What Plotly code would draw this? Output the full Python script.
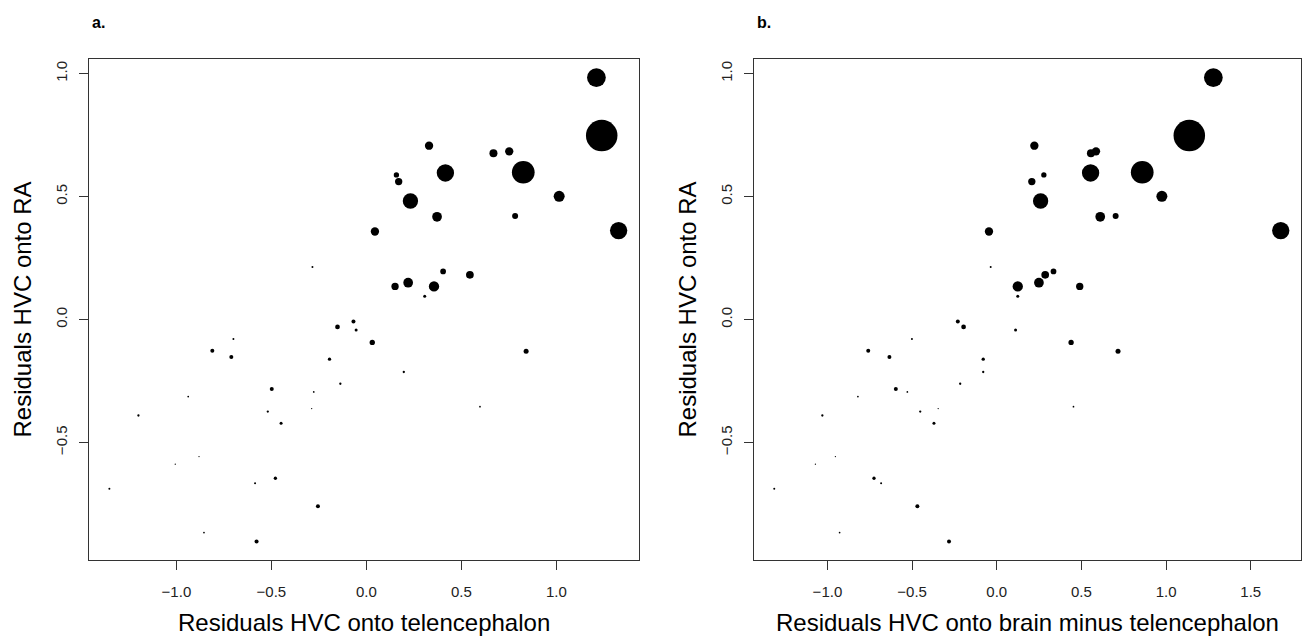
import plotly.graph_objects as go

# Residuals of HVC volume regressed onto RA (shared y values for both panels)
resid_ra = [
    0.984, 0.748, 0.707, 0.676, 0.684, 0.596, 0.599, 0.588, 0.561, 0.482,
    0.501, 0.418, 0.421, 0.362, 0.358, 0.214, 0.196, 0.182, 0.150, 0.135,
    0.135, 0.095,
    -0.008, -0.030, -0.042, -0.079, -0.093, -0.127, -0.129, -0.152, -0.161, -0.213,
    -0.261, -0.282, -0.294, -0.313, -0.354, -0.362, -0.374, -0.390, -0.421, -0.557,
    -0.588, -0.645, -0.665, -0.688, -0.759, -0.866, -0.902,
]

# Residuals of HVC regressed onto telencephalon (panel a)
resid_telencephalon = [
    1.211, 1.239, 0.330, 0.669, 0.752, 0.416, 0.826, 0.158, 0.170, 0.232,
    1.015, 0.372, 0.783, 1.328, 0.045, -0.284, 0.404, 0.545, 0.220, 0.151,
    0.356, 0.307,
    -0.068, -0.152, -0.054, -0.700, 0.031, -0.811, 0.841, -0.711, -0.194, 0.197,
    -0.137, -0.498, -0.277, -0.938, 0.598, -0.288, -0.519, -1.200, -0.449, -0.881,
    -1.006, -0.479, -0.586, -1.353, -0.255, -0.855, -0.578,
]

# Residuals of HVC regressed onto brain minus telencephalon (panel b)
resid_brain_minus_tel = [
    1.279, 1.137, 0.222, 0.556, 0.586, 0.554, 0.859, 0.278, 0.207, 0.259,
    0.975, 0.611, 0.702, 1.677, -0.046, -0.036, 0.335, 0.286, 0.249, 0.490,
    0.124, 0.124,
    -0.230, -0.196, 0.111, -0.501, 0.439, -0.759, 0.716, -0.634, -0.080, -0.080,
    -0.216, -0.596, -0.528, -0.820, 0.453, -0.346, -0.452, -1.030, -0.371, -0.953,
    -1.071, -0.725, -0.683, -1.314, -0.469, -0.928, -0.282,
]

# Relative weight of each species (drives the symbol size)
weight = [
    4.68, 7.88, 2.08, 2.00, 2.08, 4.33, 5.68, 1.33, 1.83, 3.83,
    2.75, 2.43, 1.50, 4.33, 2.08, 0.50, 1.43, 1.93, 2.43, 1.83,
    2.58, 0.75,
    1.00, 1.18, 0.75, 0.50, 1.33, 1.00, 1.25, 1.00, 0.83, 0.58,
    0.58, 1.00, 0.43, 0.43, 0.43, 0.33, 0.58, 0.58, 0.75, 0.33,
    0.33, 0.83, 0.50, 0.50, 1.00, 0.43, 1.00,
]

W, H = 1305, 636
SIZE_PER_WEIGHT = 4.0
sizes = [w * SIZE_PER_WEIGHT for w in weight]


def r_range(vals):
    lo, hi = min(vals), max(vals)
    pad = 0.04 * (hi - lo)
    return [lo - pad, hi + pad]


def px_x(p):
    return p / W


def px_y(p):
    return 1 - p / H


FONT = "Liberation Sans, Arial, Helvetica, sans-serif"
INK = "#222222"

fig = go.Figure()
marker = dict(color="black", size=sizes, line=dict(width=0), opacity=1)
fig.add_trace(go.Scatter(x=resid_telencephalon, y=resid_ra, mode="markers",
                         marker=marker, xaxis="x", yaxis="y", hoverinfo="skip"))
fig.add_trace(go.Scatter(x=resid_brain_minus_tel, y=resid_ra, mode="markers",
                         marker=marker, xaxis="x2", yaxis="y2", hoverinfo="skip"))

axis_style = dict(
    showline=True, mirror=True, linecolor="#333333", linewidth=1,
    ticks="outside", ticklen=9, tickwidth=1, tickcolor="#333333",
    showgrid=False, zeroline=False, dtick=0.5, tick0=0, tickformat=".1f",
    tickfont=dict(family=FONT, size=15, color=INK),
)

y_dom = [px_y(560), px_y(59)]
fig.update_layout(
    width=W, height=H,
    margin=dict(l=0, r=0, t=0, b=0),
    paper_bgcolor="white", plot_bgcolor="white",
    showlegend=False,
    xaxis=dict(domain=[px_x(89), px_x(639)], range=r_range(resid_telencephalon),
               anchor="y", ticklabelstandoff=9, **axis_style),
    yaxis=dict(domain=y_dom, range=r_range(resid_ra), anchor="x",
               tickangle=-90, ticklabelstandoff=6, **axis_style),
    xaxis2=dict(domain=[px_x(754), px_x(1301)], range=r_range(resid_brain_minus_tel),
                anchor="y2", ticklabelstandoff=9, **axis_style),
    yaxis2=dict(domain=y_dom, range=r_range(resid_ra), anchor="x2",
                tickangle=-90, ticklabelstandoff=6, **axis_style),
)

title_font = dict(family=FONT, size=24, color="black")
annotations = [
    dict(text="<b>a.</b>", x=px_x(90), y=px_y(12), xanchor="left", yanchor="top",
         font=dict(family=FONT, size=16, color="black")),
    dict(text="<b>b.</b>", x=px_x(755), y=px_y(12), xanchor="left", yanchor="top",
         font=dict(family=FONT, size=16, color="black")),
    dict(text="Residuals HVC onto telencephalon", x=px_x(364), y=px_y(622),
         xanchor="center", yanchor="middle", font=title_font),
    dict(text="Residuals HVC onto brain minus telencephalon", x=px_x(1027.5), y=px_y(622),
         xanchor="center", yanchor="middle", font=title_font),
    dict(text="Residuals HVC onto RA", x=px_x(22), y=px_y(309.5), textangle=-90,
         xanchor="center", yanchor="middle", font=title_font),
    dict(text="Residuals HVC onto RA", x=px_x(687), y=px_y(309.5), textangle=-90,
         xanchor="center", yanchor="middle", font=title_font),
]
for a in annotations:
    a.update(xref="paper", yref="paper", showarrow=False)
fig.update_layout(annotations=annotations)

fig.write_html("out.html")
